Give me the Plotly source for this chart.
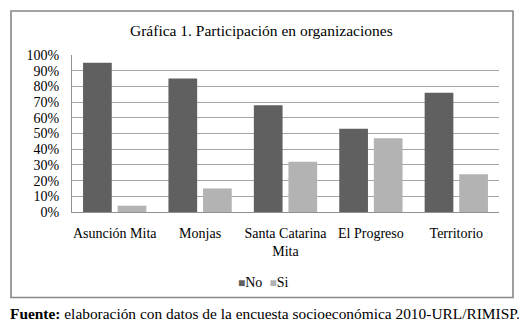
import plotly.graph_objects as go

categories = ["Asunción Mita", "Monjas", "Santa Catarina<br>Mita", "El Progreso", "Territorio"]
series_names = ["No", "Si"]
no_values = [95, 85, 68, 53, 76]
si_values = [4, 15, 32, 47, 24]
y_ticks = [0, 10, 20, 30, 40, 50, 60, 70, 80, 90, 100]
y_tick_labels = [f"{v}%" for v in y_ticks]
colors = ["#606060", "#b3b3b3"]

# page has an 8px body margin; figure drawn in the remaining area
O = 8
W, H = 527 - O, 331 - O
L, R, T, B = 72 - O, 28, 55 - O, 119
PW, PH = W - L - R, H - T - B

def px(x):  # page pixel x -> paper
    return (x - O - L) / PW

def py(y):  # page pixel y -> paper
    return (H - B - (y - O)) / PH

FONT = "Times New Roman, Liberation Serif, DejaVu Serif, serif"

fig = go.Figure()
for name, vals, col in zip(series_names, [no_values, si_values], colors):
    fig.add_trace(go.Bar(name=name, x=categories, y=vals, marker=dict(color=col, line=dict(width=0))))

legend_text = "&nbsp;&nbsp;".join(
    f"<span style='color:{c}; font-size:12px'>■</span>{n}" for n, c in zip(series_names, colors)
)

fig.update_layout(
    width=W, height=H,
    margin=dict(l=L, r=R, t=T, b=B, pad=0),
    paper_bgcolor="white", plot_bgcolor="white",
    barmode="group", bargap=0.19, bargroupgap=0.17,
    font=dict(family=FONT, size=14, color="black"),
    showlegend=False,
    xaxis=dict(showgrid=False, showline=True, linecolor="#909090", linewidth=1,
               ticks="", tickfont=dict(family=FONT, size=14), ticklabelstandoff=8),
    yaxis=dict(range=[0, 100], tickvals=y_ticks, ticktext=y_tick_labels,
               showgrid=True, gridcolor="#a6a6a6", gridwidth=1,
               showline=True, linecolor="#909090", linewidth=1, zeroline=False,
               ticks="", tickfont=dict(family=FONT, size=14), ticklabelstandoff=9),
    shapes=[dict(type="rect", xref="paper", yref="paper",
                 x0=px(11), x1=px(513), y0=py(11), y1=py(297.5),
                 line=dict(color="#878787", width=1.6), fillcolor="rgba(0,0,0,0)", layer="below")],
    annotations=[
        dict(text="Gráfica 1. Participación en organizaciones", xref="paper", yref="paper",
             x=px(261), y=py(30), xanchor="center", yanchor="middle", showarrow=False,
             font=dict(family=FONT, size=15.5, color="black")),
        dict(text=legend_text, xref="paper", yref="paper",
             x=px(263), y=py(282), xanchor="center", yanchor="middle", showarrow=False,
             font=dict(family=FONT, size=14, color="black")),
        dict(text="<b>Fuente:</b> elaboración con datos de la encuesta socioeconómica 2010-URL/RIMISP.",
             xref="paper", yref="paper", x=px(O), y=py(313), xanchor="left", yanchor="middle",
             showarrow=False, font=dict(family=FONT, size=15.4, color="black")),
    ],
)

fig.write_html("out.html")
